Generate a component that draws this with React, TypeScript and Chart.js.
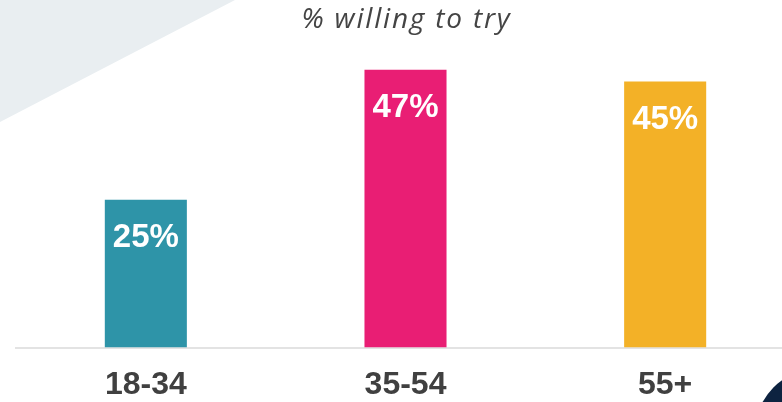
import React, { useEffect, useRef } from "react";
import { Chart, registerables } from "chart.js";

Chart.register(...registerables);

const categories = ["18-34", "35-54", "55+"];
const values = [25, 47, 45];
const barColors = ["#2e94a8", "#e91e74", "#f3b127"];
const titleText = "% willing to try";

const valueLabelPlugin = {
  id: "valueLabels",
  afterDatasetsDraw(chart: any) {
    const ctx = chart.ctx;
    const meta = chart.getDatasetMeta(0);
    ctx.save();
    ctx.fillStyle = "#ffffff";
    ctx.font = "bold 33px 'Liberation Sans', Arial, sans-serif";
    ctx.textAlign = "center";
    ctx.textBaseline = "middle";
    meta.data.forEach((bar: any, i: number) => {
      ctx.fillText(values[i] + "%", bar.x, bar.y + 38);
    });
    ctx.restore();
  },
};

const titlePlugin = {
  id: "customTitle",
  afterDraw(chart: any) {
    const ctx = chart.ctx;
    const area = chart.chartArea;
    ctx.save();
    ctx.fillStyle = "#444444";
    ctx.font = "italic 28px 'Open Sans', Lato, sans-serif";
    (ctx as any).letterSpacing = "1.8px";
    ctx.textAlign = "center";
    ctx.textBaseline = "alphabetic";
    ctx.fillText(titleText, (area.left + area.right) / 2 + 1, 28);
    ctx.restore();
  },
};

export default function App() {
  const canvasRef = useRef<HTMLCanvasElement | null>(null);

  useEffect(() => {
    const canvas = canvasRef.current;
    if (!canvas) return;
    const chart = new Chart(canvas, {
      type: "bar",
      data: {
        labels: categories,
        datasets: [
          {
            data: values,
            backgroundColor: barColors,
            borderWidth: 0,
            categoryPercentage: 1,
            barPercentage: 0.316,
          },
        ],
      },
      options: {
        responsive: false,
        animation: false,
        devicePixelRatio: 1,
        layout: { padding: { left: 16, right: 5, top: 52, bottom: 0 } },
        plugins: {
          legend: { display: false },
          tooltip: { enabled: false },
          title: { display: false },
        },
        scales: {
          x: {
            grid: { display: false, drawTicks: false },
            border: { display: true, color: "#e3e3e3", width: 2 },
            ticks: {
              color: "#404040",
              font: { family: "'Liberation Sans', Arial, sans-serif", size: 32, weight: "bold" },
              padding: 18,
            },
          },
          y: {
            display: false,
            min: 0,
            max: 50,
          },
        },
      },
      plugins: [valueLabelPlugin, titlePlugin],
    });
    return () => chart.destroy();
  }, []);

  return (
    <div
      style={{
        position: "fixed",
        left: 0,
        top: 0,
        width: 782,
        height: 402,
        overflow: "hidden",
        background: "#ffffff",
      }}
    >
      <div
        style={{
          position: "absolute",
          left: 0,
          top: 0,
          width: 235,
          height: 122,
          background: "#e9eef1",
          clipPath: "polygon(0 0, 100% 0, 0 100%)",
        }}
      />
      <div
        style={{
          position: "absolute",
          left: 818 - 63,
          top: 432 - 63,
          width: 126,
          height: 126,
          borderRadius: "50%",
          background: "#0d2340",
        }}
      />
      <canvas
        ref={canvasRef}
        width={800}
        height={422}
        style={{ position: "absolute", left: 0, top: 0, width: 800, height: 422 }}
      />
    </div>
  );
}
